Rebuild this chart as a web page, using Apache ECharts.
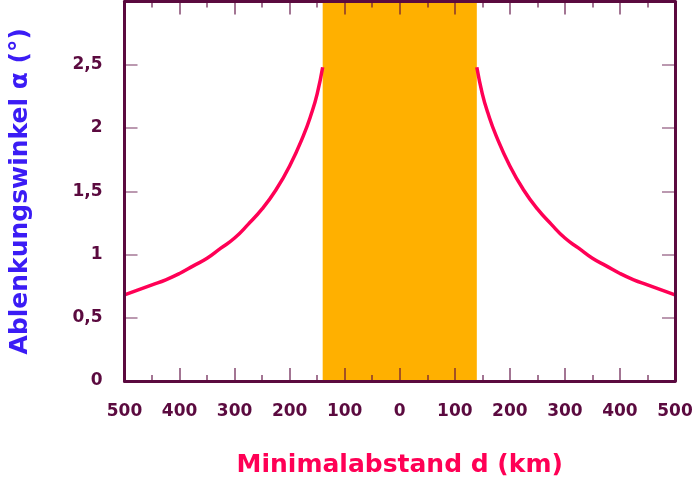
<!DOCTYPE html>
<html>
<head>
<meta charset="utf-8">
<script src="https://cdn.jsdelivr.net/npm/echarts@6/dist/echarts.min.js"></script>
<style>
  html, body { margin: 0; padding: 0; background: #fff; }
  #chart { width: 694px; height: 481px; }
</style>
</head>
<body>
<div id="chart"></div>
<script>
  // Abstand d (km) rechts der Mitte
  var distances = [140, 150, 160, 175, 200, 225, 250, 275, 300, 325, 350, 375, 400, 425, 450, 475, 500];
  var angles = [2.48, 2.27, 2.12, 1.94, 1.70, 1.51, 1.36, 1.24, 1.13, 1.05, 0.97, 0.91, 0.85, 0.80, 0.76, 0.72, 0.68];
  // Grenzen des orangen Bereichs
  var bandFrom = -140;
  var bandTo = 140;

  var dark = '#5b0a3f';
  var tickColor = 'rgba(91,10,63,0.75)';
  var font = 'DejaVu Sans';

  var rightSide = distances.map(function (d, i) { return [d, angles[i]]; });
  var leftSide = distances.map(function (d, i) { return [-d, angles[i]]; });

  var chart = echarts.init(document.getElementById('chart'));

  var xBase = {
    type: 'value',
    min: -500,
    max: 500,
    interval: 100,
    z: 10,
    axisLine: { show: true, onZero: false, lineStyle: { color: dark, width: 3 } },
    axisTick: { show: true, inside: true, length: 13, lineStyle: { color: tickColor, width: 1.5 } },
    minorTick: { show: true, splitNumber: 2, length: 6, lineStyle: { color: tickColor, width: 1.5 } },
    splitLine: { show: false }
  };
  var yBase = {
    type: 'value',
    min: 0,
    max: 3,
    interval: 0.5,
    z: 10,
    axisLine: { show: true, onZero: false, lineStyle: { color: dark, width: 3 } },
    axisTick: { show: true, inside: true, length: 13, lineStyle: { color: 'rgba(91,10,63,0.55)', width: 1.5 } },
    splitLine: { show: false }
  };

  chart.setOption({
    animation: false,
    grid: { left: 124.5, right: 19, top: 1.5, bottom: 100, outerBoundsMode: 'none', containLabel: false },
    xAxis: [
      Object.assign({}, xBase, {
        position: 'bottom',
        name: 'Minimalabstand d (km)',
        nameLocation: 'middle',
        nameGap: 72,
        nameTextStyle: { color: '#ff0055', fontSize: 25, fontWeight: 'bold', fontFamily: font },
        axisLabel: {
          color: dark, fontSize: 17, fontWeight: 'bold', fontFamily: font, margin: 22,
          formatter: function (v) { return String(Math.abs(v)); }
        }
      }),
      Object.assign({}, xBase, { position: 'top', axisLabel: { show: false } })
    ],
    yAxis: [
      Object.assign({}, yBase, {
        position: 'left',
        name: 'Ablenkungswinkel α (°)',
        nameLocation: 'middle',
        nameGap: 92,
        nameRotate: 90,
        nameTextStyle: { color: '#3b1cf5', fontSize: 25, fontWeight: 'bold', fontFamily: font },
        axisLabel: {
          color: dark, fontSize: 17, fontWeight: 'bold', fontFamily: font, margin: 22,
          formatter: function (v) { return v >= 3 ? '' : String(v).replace('.', ','); }
        }
      }),
      Object.assign({}, yBase, { position: 'right', axisLabel: { show: false } })
    ],
    series: [
      {
        type: 'line',
        data: leftSide,
        smooth: true,
        showSymbol: false,
        lineStyle: { color: '#ff0055', width: 3.5 },
        markArea: {
          silent: true,
          itemStyle: { color: '#ffb000' },
          data: [[{ xAxis: bandFrom }, { xAxis: bandTo }]]
        }
      },
      {
        type: 'line',
        data: rightSide,
        smooth: true,
        showSymbol: false,
        lineStyle: { color: '#ff0055', width: 3.5 }
      }
    ]
  });
</script>
</body>
</html>
